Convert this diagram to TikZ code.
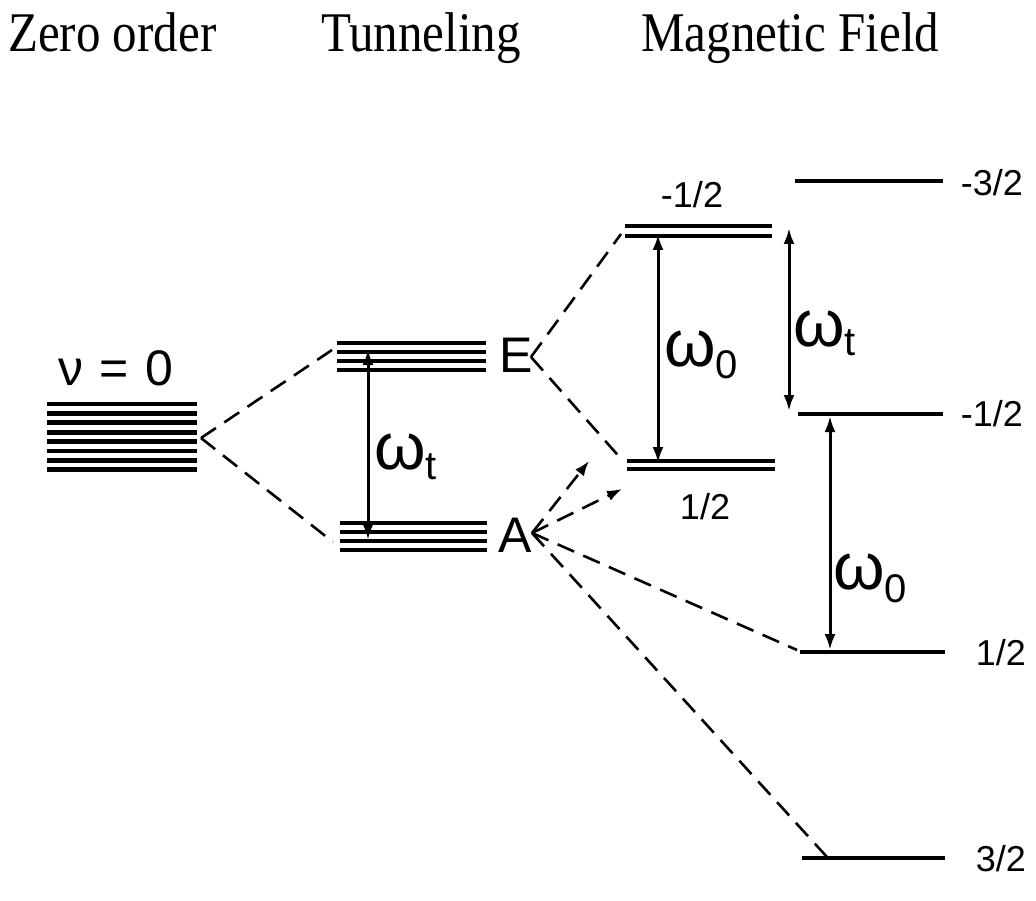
\documentclass[tikz,border=0pt]{standalone}
\usepackage{fontspec}
\setmainfont{Liberation Serif}
\setsansfont{Liberation Sans}
\usetikzlibrary{arrows.meta}
\newcommand{\subsc}[2]{\raisebox{#1}{\fontsize{40}{42}\selectfont #2}}
\begin{document}
\begin{tikzpicture}[x=1pt,y=-1pt,
  stacklev/.style={line width=4.8pt},
  duallev/.style={line width=4pt},
  singlelev/.style={line width=3.4pt},
  conn/.style={line width=2.6pt, dash pattern=on 18pt off 10pt},
  connarrow/.style={conn, -{Latex[length=15pt,width=11pt]}},
  trans/.style={line width=3pt, {Latex[length=16pt,width=11pt]}-{Latex[length=16pt,width=11pt]}},
  title/.style={font=\fontsize{50}{52}\selectfont, anchor=base west, inner sep=0pt},
  lbl/.style={font=\sffamily\fontsize{36}{38}\selectfont, inner sep=0pt},
  big/.style={font=\sffamily\fontsize{50}{52}\selectfont, inner sep=0pt},
  omg/.style={font=\sffamily\fontsize{66}{68}\selectfont, anchor=base west, inner sep=0pt}
]
\useasboundingbox (0,0) rectangle (1036,901);
% titles
\node[title] (t1) at (8,52) {\scalebox{0.98}[1.12]{Zero order}};
\node[title] (t2) at (321,52) {\scalebox{0.98}[1.12]{Tunneling}};
\node[title] (t3) at (641,52) {\scalebox{0.98}[1.12]{Magnetic Field}};
% zero order stack
\foreach \i in {0,...,7} \draw[stacklev] (47,{404+9.4*\i}) -- (197,{404+9.4*\i});
\node[big, anchor=base] (nu) at (116,385) {ν\,\,=\,\,0};
% tunneling stacks
\foreach \i in {0,...,3} \draw[stacklev] (337,{343+9*\i}) -- (486,{343+9*\i});
\foreach \i in {0,...,3} \draw[stacklev] (340,{523+9*\i}) -- (487,{523+9*\i});
\node[big, anchor=base west] (E) at (499,372) {E};
\node[big, anchor=base west] (A) at (498,552) {A};
% magnetic field middle levels
\draw[duallev] (625,226) -- (772,226);
\draw[duallev] (625,236) -- (772,236);
\draw[duallev] (627,461) -- (775,461);
\draw[duallev] (627,469) -- (775,469);
\node[lbl] (m1) at (692,195) {-1/2};
\node[lbl] (m2) at (705,507) {1/2};
% right levels
\draw[singlelev] (795,181) -- (943,181);
\draw[singlelev] (798,414) -- (943,414);
\draw[singlelev] (800,652) -- (945,652);
\draw[singlelev] (802,858) -- (945,858);
\node[lbl, anchor=east] (r1) at (1023,183) {-3/2};
\node[lbl, anchor=east] (r2) at (1023,414) {-1/2};
\node[lbl, anchor=east] (r3) at (1026,653) {1/2};
\node[lbl, anchor=east] (r4) at (1026,859) {3/2};
% coordinates
\coordinate (zap) at (201,438);
\coordinate (eL) at (332,350);
\coordinate (aL) at (333,542);
\coordinate (eap) at (531,357);
\coordinate (mTop) at (621,234);
\coordinate (mBot) at (623,461);
\coordinate (aap) at (532,533);
\coordinate (tip1) at (589,461);
\coordinate (tip2) at (622,489);
\coordinate (rHalf) at (797,650);
\coordinate (rThree) at (827,857);
% dashed correlations
\draw[conn] (zap) -- (eL);
\draw[conn] (zap) -- (aL);
\draw[conn] (eap) -- (mTop);
\draw[conn] (eap) -- (mBot);
\draw[connarrow] (aap) -- (tip1);
\draw[connarrow] (aap) -- (tip2);
\draw[conn] (aap) -- (rHalf);
\draw[conn] (aap) -- (rThree);
% transitions
\coordinate (w1a) at (368,349);
\coordinate (w1b) at (368,540);
\coordinate (w2a) at (658,234);
\coordinate (w2b) at (658,463);
\coordinate (w3a) at (789,228);
\coordinate (w3b) at (789,411);
\coordinate (w4a) at (830,416);
\coordinate (w4b) at (830,650);
\draw[trans] (w1a) -- (w1b);
\draw[trans] (w2a) -- (w2b);
\draw[trans] (w3a) -- (w3b);
\draw[trans] (w4a) -- (w4b);
\node[omg] (o1) at (374,469) {ω\subsc{-10pt}{t}};
\node[omg] (o2) at (664,366) {ω\subsc{-13pt}{0}};
\node[omg] (o3) at (793,346) {ω\subsc{-9pt}{t}};
\node[omg] (o4) at (833,589) {ω\subsc{-13pt}{0}};
\end{tikzpicture}
\end{document}
